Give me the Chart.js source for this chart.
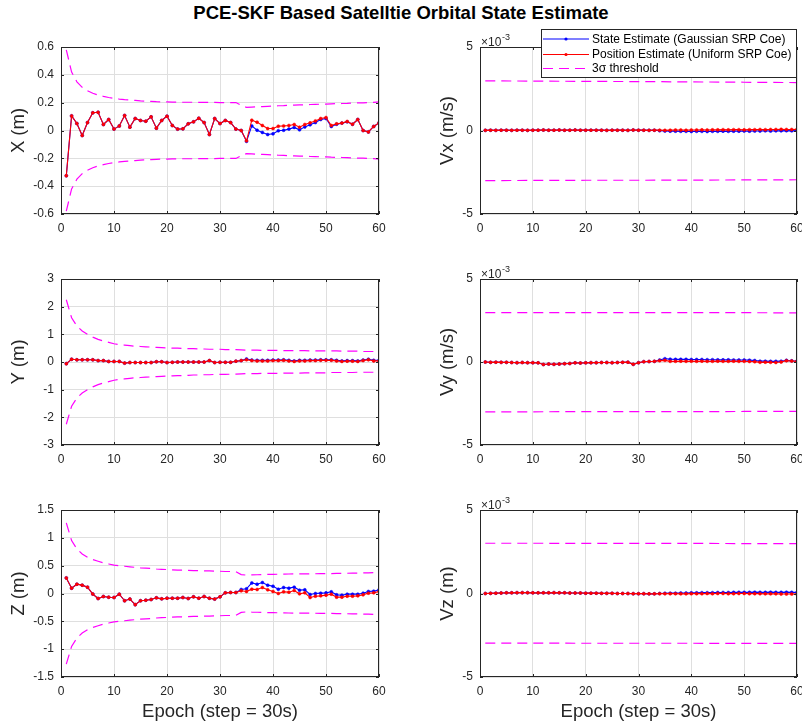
<!DOCTYPE html>
<html>
<head>
<meta charset="utf-8">
<script src="https://cdn.jsdelivr.net/npm/chart.js@4/dist/chart.umd.min.js"></script>
<style>
  body { margin: 0; background: #fff; width: 802px; height: 725px; position: relative; overflow: hidden;
         font-family: "Liberation Sans", Arial, Helvetica, sans-serif; }
  #title { position: absolute; left: 0; top: 2px; width: 802px; text-align: center;
           font-weight: bold; font-size: 18.5px; color: #000; }
  canvas { position: absolute; }
</style>
</head>
<body>
<div id="title">PCE-SKF Based Satelltie Orbital State Estimate</div>
<canvas id="pX" width="400" height="215" style="left:0;top:24px"></canvas>
<canvas id="pVx" width="402" height="215" style="left:400px;top:24px"></canvas>
<canvas id="pY" width="400" height="211" style="left:0;top:259px"></canvas>
<canvas id="pVy" width="402" height="211" style="left:400px;top:259px"></canvas>
<canvas id="pZ" width="400" height="235" style="left:0;top:490px"></canvas>
<canvas id="pVz" width="402" height="235" style="left:400px;top:490px"></canvas>
<script>
/* eslint-disable */
const epochs = [1,2,3,4,5,6,7,8,9,10,11,12,13,14,15,16,17,18,19,20,
  21,22,23,24,25,26,27,28,29,30,31,32,33,34,35,36,37,38,39,40,
  41,42,43,44,45,46,47,48,49,50,51,52,53,54,55,56,57,58,59,60];
const epochTicks = [0,10,20,30,40,50,60];

// X position (m)
const xGauss = [-0.325,0.105,0.05,-0.036,0.057,0.127,0.131,0.043,0.079,0.01,
  0.033,0.108,0.024,0.086,0.072,0.067,0.098,0.017,0.072,0.103,
  0.036,0.01,0.012,0.048,0.062,0.088,0.057,-0.029,0.086,0.05,
  0.072,0.057,0.01,0.0,-0.078,0.033,0.002,-0.014,-0.029,-0.024,
  -0.002,0.002,0.01,0.022,0.005,0.026,0.041,0.057,0.079,0.086,
  0.029,0.045,0.053,0.062,0.045,0.079,0.0,-0.01,0.029,0.055];
const xUnif = [-0.325,0.105,0.05,-0.036,0.057,0.127,0.131,0.043,0.079,0.01,
  0.033,0.108,0.024,0.086,0.072,0.067,0.098,0.017,0.072,0.103,
  0.036,0.01,0.012,0.048,0.062,0.088,0.057,-0.029,0.086,0.05,
  0.072,0.057,0.01,0.0,-0.074,0.074,0.06,0.036,0.014,0.014,
  0.031,0.033,0.036,0.043,0.024,0.043,0.055,0.069,0.086,0.093,
  0.036,0.048,0.053,0.065,0.045,0.079,0.0,-0.01,0.029,0.055];
const xSigUp = [0.58,0.42,0.35,0.31,0.285,0.268,0.255,0.245,0.237,0.231,
  0.226,0.222,0.219,0.216,0.213,0.211,0.209,0.207,0.206,0.205,
  0.204,0.204,0.203,0.203,0.203,0.202,0.202,0.202,0.202,0.201,
  0.201,0.201,0.201,0.18,0.166,0.168,0.17,0.172,0.174,0.176,
  0.178,0.179,0.181,0.182,0.184,0.185,0.187,0.188,0.189,0.19,
  0.192,0.193,0.194,0.195,0.197,0.198,0.199,0.2,0.202,0.205];
const xSigLo = [-0.58,-0.42,-0.35,-0.31,-0.285,-0.268,-0.255,-0.245,-0.237,-0.231,
  -0.226,-0.222,-0.219,-0.216,-0.213,-0.211,-0.209,-0.207,-0.206,-0.205,
  -0.204,-0.204,-0.203,-0.203,-0.203,-0.202,-0.202,-0.202,-0.202,-0.201,
  -0.201,-0.201,-0.201,-0.18,-0.166,-0.168,-0.17,-0.172,-0.174,-0.176,
  -0.178,-0.179,-0.181,-0.182,-0.184,-0.185,-0.187,-0.188,-0.189,-0.19,
  -0.192,-0.193,-0.194,-0.195,-0.197,-0.198,-0.199,-0.2,-0.202,-0.205];
const xTicks = [-0.6,-0.4,-0.2,0,0.2,0.4,0.6];

// Y position (m)
const yGauss = [-0.06,0.1,0.08,0.08,0.08,0.08,0.05,0.05,0.02,0.02,
  0.02,-0.04,-0.02,-0.02,-0.02,-0.02,-0.02,0.01,0.01,-0.02,
  -0.01,0.0,0.0,0.0,0.0,0.0,0.0,0.05,-0.02,-0.01,
  -0.01,-0.01,0.03,0.05,0.11,0.07,0.06,0.06,0.06,0.07,
  0.07,0.08,0.06,0.04,0.06,0.06,0.07,0.07,0.08,0.08,
  0.08,0.06,0.04,0.05,0.05,0.04,0.07,0.1,0.06,0.06];
const yUnif = [-0.06,0.1,0.08,0.08,0.08,0.08,0.05,0.05,0.02,0.02,
  0.02,-0.04,-0.02,-0.02,-0.02,-0.02,-0.02,0.01,0.01,-0.02,
  -0.01,0.0,0.0,0.0,0.0,0.0,0.0,0.05,-0.02,-0.01,
  -0.01,-0.01,0.03,0.05,0.08,0.05,0.04,0.04,0.04,0.05,
  0.05,0.06,0.04,0.02,0.04,0.04,0.05,0.05,0.06,0.06,
  0.06,0.04,0.02,0.03,0.03,0.02,0.05,0.08,0.04,0.04];
const ySigUp = [2.25,1.6,1.3,1.12,1.0,0.9,0.82,0.76,0.71,0.66,
  0.63,0.61,0.59,0.57,0.56,0.55,0.54,0.53,0.52,0.51,
  0.5,0.5,0.49,0.48,0.48,0.47,0.47,0.46,0.46,0.46,
  0.45,0.45,0.45,0.44,0.43,0.43,0.43,0.42,0.42,0.42,
  0.42,0.41,0.41,0.41,0.41,0.41,0.4,0.4,0.4,0.4,
  0.4,0.4,0.39,0.39,0.39,0.39,0.38,0.38,0.38,0.38];
const ySigLo = [-2.25,-1.6,-1.3,-1.12,-1.0,-0.9,-0.82,-0.76,-0.71,-0.66,
  -0.63,-0.61,-0.59,-0.57,-0.56,-0.55,-0.54,-0.53,-0.52,-0.51,
  -0.5,-0.49,-0.49,-0.48,-0.47,-0.47,-0.46,-0.46,-0.45,-0.45,
  -0.45,-0.44,-0.44,-0.43,-0.42,-0.42,-0.42,-0.41,-0.41,-0.41,
  -0.41,-0.4,-0.4,-0.4,-0.4,-0.39,-0.39,-0.39,-0.39,-0.39,
  -0.38,-0.38,-0.38,-0.38,-0.38,-0.37,-0.37,-0.37,-0.37,-0.37];
const yTicks = [-3,-2,-1,0,1,2,3];

// Z position (m)
const zGauss = [0.28,0.096,0.167,0.15,0.114,-0.01,-0.09,-0.054,-0.066,-0.072,
  -0.012,-0.13,-0.1,-0.2,-0.13,-0.12,-0.108,-0.078,-0.096,-0.084,
  -0.084,-0.084,-0.072,-0.09,-0.06,-0.084,-0.054,-0.084,-0.1,-0.06,
  0.012,0.018,0.018,0.072,0.084,0.19,0.167,0.197,0.15,0.13,
  0.078,0.108,0.096,0.114,0.06,0.066,-0.018,0.0,0.006,0.012,
  0.03,-0.024,-0.03,-0.012,-0.012,-0.012,0.006,0.036,0.042,0.066];
const zUnif = [0.28,0.096,0.167,0.15,0.114,-0.01,-0.09,-0.054,-0.066,-0.072,
  -0.012,-0.13,-0.1,-0.2,-0.13,-0.12,-0.108,-0.078,-0.096,-0.084,
  -0.084,-0.084,-0.072,-0.09,-0.06,-0.084,-0.054,-0.084,-0.1,-0.06,
  0.012,0.018,0.018,0.048,0.036,0.078,0.072,0.108,0.066,0.036,
  0.0,0.03,0.024,0.054,-0.006,0.012,-0.072,-0.048,-0.042,-0.03,
  -0.012,-0.066,-0.066,-0.048,-0.048,-0.042,-0.024,0.006,0.012,0.036];
const zSigUp = [1.27,0.95,0.8,0.71,0.65,0.61,0.58,0.55,0.53,0.51,
  0.5,0.49,0.48,0.47,0.46,0.455,0.45,0.44,0.435,0.43,
  0.425,0.42,0.42,0.415,0.41,0.41,0.405,0.405,0.4,0.4,
  0.395,0.395,0.39,0.34,0.33,0.335,0.337,0.34,0.342,0.344,
  0.346,0.348,0.35,0.351,0.352,0.353,0.354,0.355,0.356,0.357,
  0.358,0.36,0.362,0.364,0.366,0.368,0.37,0.372,0.374,0.376];
const zSigLo = [-1.27,-0.95,-0.8,-0.71,-0.65,-0.61,-0.58,-0.55,-0.53,-0.51,
  -0.5,-0.49,-0.48,-0.47,-0.46,-0.455,-0.45,-0.44,-0.435,-0.43,
  -0.425,-0.42,-0.42,-0.415,-0.41,-0.41,-0.405,-0.405,-0.4,-0.4,
  -0.395,-0.395,-0.39,-0.34,-0.33,-0.335,-0.337,-0.34,-0.342,-0.344,
  -0.346,-0.348,-0.35,-0.351,-0.352,-0.353,-0.354,-0.355,-0.356,-0.357,
  -0.358,-0.36,-0.362,-0.364,-0.366,-0.368,-0.37,-0.372,-0.374,-0.376];
const zTicks = [-1.5,-1,-0.5,0,0.5,1,1.5];

// velocities, in units of 10^-3 (as displayed with the x10^-3 axis factor)
const vxGauss = [0.01,0.02,0.01,0.02,0.02,0.01,0.02,0.02,0.01,0.02,
  0.02,0.03,0.02,0.02,0.03,0.02,0.02,0.03,0.02,0.02,
  0.02,0.02,0.02,0.01,0.02,0.02,0.02,0.01,0.03,0.02,
  0.02,0.01,0.02,-0.01,-0.03,-0.04,-0.04,-0.05,-0.05,-0.06,
  -0.05,-0.05,-0.06,-0.05,-0.05,-0.04,-0.05,-0.04,-0.04,-0.03,
  -0.04,-0.03,-0.03,-0.02,-0.03,-0.02,-0.02,-0.01,-0.02,-0.01];
const vxUnif = [0.01,0.02,0.01,0.02,0.02,0.01,0.02,0.02,0.01,0.02,
  0.02,0.03,0.02,0.02,0.03,0.02,0.02,0.03,0.02,0.02,
  0.02,0.02,0.02,0.01,0.02,0.02,0.02,0.01,0.03,0.02,
  0.02,0.01,0.02,0.02,0.01,0.02,0.03,0.03,0.02,0.03,
  0.03,0.04,0.03,0.04,0.04,0.05,0.04,0.05,0.05,0.04,
  0.05,0.05,0.06,0.05,0.06,0.06,0.07,0.06,0.06,0.07];
const vyGauss = [0.0,-0.02,-0.01,-0.02,-0.02,-0.03,-0.04,-0.03,-0.04,-0.04,
  -0.05,-0.15,-0.12,-0.14,-0.12,-0.1,-0.09,-0.05,-0.06,-0.05,
  -0.04,-0.04,-0.03,-0.03,-0.04,-0.03,-0.02,-0.01,-0.14,-0.04,
  0.02,0.03,0.04,0.12,0.2,0.17,0.16,0.16,0.16,0.15,
  0.15,0.15,0.14,0.14,0.13,0.13,0.13,0.12,0.12,0.12,
  0.11,0.09,0.05,0.05,0.04,0.04,0.05,0.1,0.07,0.06];
const vyUnif = [0.0,-0.02,-0.01,-0.02,-0.02,-0.03,-0.04,-0.03,-0.04,-0.04,
  -0.05,-0.15,-0.12,-0.14,-0.12,-0.1,-0.09,-0.05,-0.06,-0.05,
  -0.04,-0.04,-0.03,-0.03,-0.04,-0.03,-0.02,-0.01,-0.14,-0.04,
  0.02,0.03,0.04,0.08,0.1,0.04,0.04,0.05,0.04,0.05,
  0.04,0.05,0.04,0.04,0.05,0.04,0.04,0.05,0.04,0.04,
  0.03,0.02,-0.02,-0.01,-0.02,-0.03,0.0,0.08,0.06,0.04];
const vzGauss = [0.0,0.01,0.02,0.03,0.04,0.04,0.05,0.05,0.05,0.04,
  0.04,0.04,0.04,0.05,0.04,0.04,0.03,0.03,0.03,0.02,
  0.02,0.02,0.01,0.01,0.01,0.0,0.0,0.0,-0.01,-0.01,
  -0.01,-0.02,-0.02,0.0,0.01,0.02,0.02,0.03,0.03,0.04,
  0.04,0.05,0.05,0.05,0.06,0.06,0.06,0.07,0.07,0.07,
  0.07,0.08,0.07,0.07,0.08,0.07,0.07,0.08,0.07,0.07];
const vzUnif = [0.0,0.01,0.02,0.03,0.04,0.04,0.05,0.05,0.05,0.04,
  0.04,0.04,0.04,0.05,0.04,0.04,0.03,0.03,0.03,0.02,
  0.02,0.02,0.01,0.01,0.01,0.0,0.0,0.0,-0.01,-0.01,
  -0.01,-0.02,-0.02,-0.01,-0.01,-0.01,-0.01,-0.02,-0.02,-0.01,
  -0.01,-0.01,0.0,-0.01,0.0,0.0,-0.01,-0.01,0.0,0.0,
  -0.01,-0.01,-0.01,-0.02,-0.02,-0.02,-0.03,-0.03,-0.03,-0.04];
const velSigEpochs = [1,10,20,30,40,50,60];
const vxSigUp = [2.97,2.96,2.94,2.93,2.91,2.89,2.87];
const vxSigLo = [-3.0,-2.99,-2.98,-2.98,-2.97,-2.96,-2.95];
const vySigUp = [2.98,2.98,2.98,2.97,2.97,2.97,2.96];
const vySigLo = [-3.0,-3.0,-2.99,-2.99,-2.99,-2.98,-2.98];
const vzSigUp = [3.01,3.01,3.0,3.0,3.0,2.99,2.99];
const vzSigLo = [-2.97,-2.97,-2.98,-2.98,-2.98,-2.99,-2.99];
const velTicks = [-5,0,5];

const FONT = '"Liberation Sans", Arial, Helvetica, sans-serif';
const AX = '#262626';
const GRID = '#dfdfdf';

function pts(xs, ys) {
  return xs.map(function(x, i) { return {x: x, y: ys[i]}; });
}

// box, inward tick marks, x10^-3 factor and legend, the way matlab draws them
const matlabAxes = {
  id: 'matlabAxes',
  afterDraw(chart, args, opts) {
    const ctx = chart.ctx, a = chart.chartArea;
    const sx = chart.scales.x, sy = chart.scales.y;
    ctx.save();
    ctx.strokeStyle = AX;
    ctx.lineWidth = 1;
    ctx.beginPath();
    sx.ticks.forEach(function(t) {
      const p = Math.round(sx.getPixelForValue(t.value)) + 0.5;
      ctx.moveTo(p, a.bottom); ctx.lineTo(p, a.bottom - 3);
      ctx.moveTo(p, a.top); ctx.lineTo(p, a.top + 3);
    });
    sy.ticks.forEach(function(t) {
      const p = Math.round(sy.getPixelForValue(t.value)) + 0.5;
      ctx.moveTo(a.left, p); ctx.lineTo(a.left + 3, p);
      ctx.moveTo(a.right, p); ctx.lineTo(a.right - 3, p);
    });
    ctx.stroke();
    ctx.strokeRect(a.left + 0.5, a.top + 0.5, a.right - a.left - 1, a.bottom - a.top - 1);

    if (opts.exponent) {
      ctx.fillStyle = AX;
      ctx.textBaseline = 'alphabetic';
      ctx.textAlign = 'left';
      ctx.font = '12px ' + FONT;
      ctx.fillText('\u00d710', a.left + 1, a.top - 1);
      ctx.font = '9px ' + FONT;
      ctx.fillText('-3', a.left + 22, a.top - 7);
    }

    if (opts.legend) {
      const items = chart.data.datasets.filter(function(d) { return d.inLegend; })
        .sort(function(p, q) { return p.inLegend - q.inLegend; });
      const bx = 141, by = 5, bw = 255, bh = 48;
      ctx.fillStyle = '#fff';
      ctx.fillRect(bx, by, bw, bh);
      ctx.strokeStyle = AX;
      ctx.strokeRect(bx + 0.5, by + 0.5, bw, bh);
      const rowsY = [15, 30.5, 44.5];
      ctx.font = '12px ' + FONT;
      ctx.textBaseline = 'middle';
      items.forEach(function(d, i) {
        const y = rowsY[i];
        ctx.strokeStyle = d.borderColor;
        ctx.lineWidth = d.borderWidth;
        ctx.setLineDash(d.borderDash || []);
        ctx.beginPath();
        ctx.moveTo(143, y); ctx.lineTo(189, y);
        ctx.stroke();
        ctx.setLineDash([]);
        if (d.pointRadius > 0) {
          ctx.fillStyle = d.borderColor;
          ctx.beginPath();
          ctx.arc(166, y, 1.6, 0, Math.PI * 2);
          ctx.fill();
        }
        ctx.fillStyle = '#000';
        ctx.fillText(d.label, 192, y + 0.5);
      });
    }
    ctx.restore();
  }
};

function makePanel(id, o) {
  const est = {pointRadius: 1.5, pointBorderWidth: 0.5, borderWidth: 1.1, tension: 0, pointHoverRadius: 0};
  const sig = {pointRadius: 0, borderWidth: 1.2, borderDash: [10, 6], borderColor: '#ff00ff', tension: 0, order: 2};
  const datasets = [
    Object.assign({label: 'Position Estimate (Uniform SRP Coe)', data: pts(epochs, o.unif),
      borderColor: '#ff0000', backgroundColor: '#ff0000', order: 0, inLegend: 2}, est),
    Object.assign({label: 'State Estimate (Gaussian SRP Coe)', data: pts(epochs, o.gauss),
      borderColor: '#0000ff', backgroundColor: '#0000ff', order: 1, inLegend: 1}, est),
    Object.assign({label: '3\u03c3 threshold', data: pts(o.sigX, o.sigUp), inLegend: 3}, sig),
    Object.assign({label: '3\u03c3 threshold (lower)', data: pts(o.sigX, o.sigLo)}, sig)
  ];
  const yTk = o.ticks;
  return new Chart(document.getElementById(id), {
    type: 'line',
    data: {datasets: datasets},
    plugins: [matlabAxes],
    options: {
      responsive: false,
      animation: false,
      events: [],
      layout: {padding: {top: o.padTop, right: o.padRight, left: 0, bottom: 0}},
      plugins: {
        legend: {display: false},
        tooltip: {enabled: false},
        matlabAxes: {exponent: !!o.exponent, legend: !!o.legend}
      },
      scales: {
        x: {
          type: 'linear', min: 0, max: 60,
          afterBuildTicks: function(s) { s.ticks = epochTicks.map(function(v) { return {value: v}; }); },
          afterFit: function(s) { s.height = o.xHeight; s.paddingLeft = 0; s.paddingRight = 0; },
          grid: {color: GRID, drawTicks: false},
          border: {display: false},
          ticks: {color: AX, font: {family: FONT, size: 12}, padding: 7, maxRotation: 0, autoSkip: false},
          title: {display: !!o.xTitle, text: o.xTitle || '', color: AX,
                  font: {family: FONT, size: 18.5}, padding: {top: 0, bottom: 2}}
        },
        y: {
          type: 'linear', min: yTk[0], max: yTk[yTk.length - 1],
          afterBuildTicks: function(s) { s.ticks = yTk.map(function(v) { return {value: v}; }); },
          afterFit: function(s) { s.width = o.yWidth; s.paddingTop = 0; s.paddingBottom = 0; },
          grid: {color: GRID, drawTicks: false},
          border: {display: false},
          ticks: {color: AX, font: {family: FONT, size: 12}, padding: 7, autoSkip: false,
                  callback: function(v) { return String(v); }},
          title: {display: true, text: o.yTitle, color: AX,
                  font: {family: FONT, size: 18.5}, padding: {top: o.yTitlePad, bottom: 0}}
        }
      }
    }
  });
}

const left = {padRight: 21, yWidth: 61, yTitlePad: 8, sigX: epochs};
const right = {padRight: 5, yWidth: 80, yTitlePad: 37, sigX: velSigEpochs, ticks: velTicks, exponent: true};

new makePanel('pX', Object.assign({}, left, {padTop: 23, xHeight: 25, yTitle: 'X (m)', ticks: xTicks,
  gauss: xGauss, unif: xUnif, sigUp: xSigUp, sigLo: xSigLo}));
new makePanel('pY', Object.assign({}, left, {padTop: 20, xHeight: 25, yTitle: 'Y (m)', ticks: yTicks,
  gauss: yGauss, unif: yUnif, sigUp: ySigUp, sigLo: ySigLo}));
new makePanel('pZ', Object.assign({}, left, {padTop: 20, xHeight: 48, yTitle: 'Z (m)', ticks: zTicks,
  xTitle: 'Epoch (step = 30s)', gauss: zGauss, unif: zUnif, sigUp: zSigUp, sigLo: zSigLo}));
new makePanel('pVx', Object.assign({}, right, {padTop: 23, xHeight: 25, yTitle: 'Vx (m/s)', legend: true,
  gauss: vxGauss, unif: vxUnif, sigUp: vxSigUp, sigLo: vxSigLo}));
new makePanel('pVy', Object.assign({}, right, {padTop: 20, xHeight: 25, yTitle: 'Vy (m/s)',
  gauss: vyGauss, unif: vyUnif, sigUp: vySigUp, sigLo: vySigLo}));
new makePanel('pVz', Object.assign({}, right, {padTop: 20, xHeight: 48, yTitle: 'Vz (m)',
  xTitle: 'Epoch (step = 30s)', gauss: vzGauss, unif: vzUnif, sigUp: vzSigUp, sigLo: vzSigLo}));
</script>
</body>
</html>
